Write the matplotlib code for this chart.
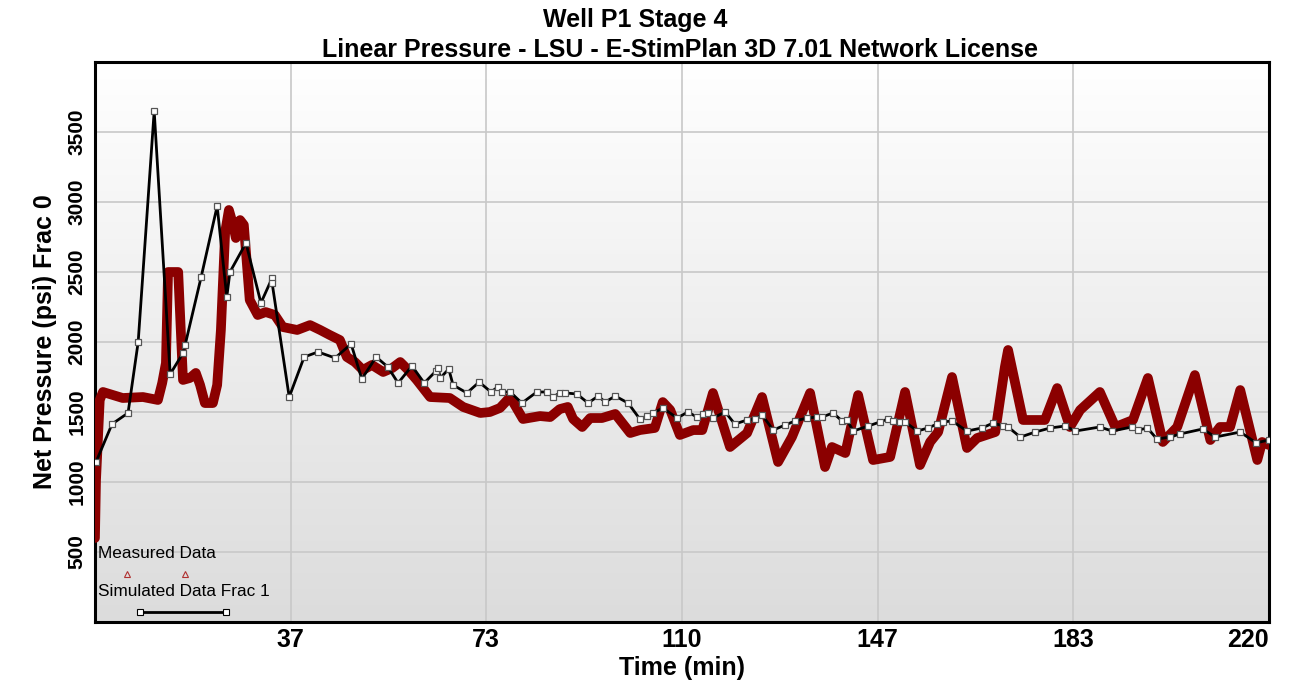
import matplotlib
matplotlib.use("Agg")
import matplotlib.pyplot as plt
import numpy as np

plt.rcParams['font.family'] = ['Liberation Sans', 'DejaVu Sans']

# measured net pressure (time in min, psi)
meas_t = [0.0, 0.2, 0.9, 1.5, 5.2, 9.0, 11.8, 12.6, 13.3, 13.7, 15.6, 16.5, 17.8, 18.9,
          19.7, 20.6, 22.1, 22.9, 23.6, 24.4, 25.1, 25.9, 26.4, 27.2, 27.9, 29.0, 30.5,
          32.0, 33.7, 35.2, 37.9, 40.3, 42.2, 44.0, 45.9, 47.2, 48.7, 50.2, 51.9, 54.0,
          55.7, 57.2, 58.7, 60.3, 62.8, 66.5, 69.0, 72.2, 74.0, 75.9, 77.8, 80.2, 83.4,
          85.3, 87.1, 88.6, 89.6, 91.3, 92.8, 95.0, 97.5, 100.3, 102.1, 104.9, 106.4,
          107.8, 109.6, 112.1, 113.8, 115.8, 119.0, 122.2, 125.0, 128.0, 130.6, 134.0,
          136.8, 138.1, 140.6, 143.0, 145.8, 149.0, 151.8, 154.6, 156.5, 158.0, 160.6,
          163.4, 165.3, 168.7, 170.5, 171.1, 173.9, 178.0, 180.3, 182.7, 184.6, 188.3,
          191.2, 194.5, 197.3, 200.1, 202.8, 206.1, 209.0, 210.8, 212.7, 214.6, 217.8,
          218.7, 220.0]
meas_p = [600, 1014, 1586, 1643, 1600, 1607, 1586, 1707, 1850, 2500, 2500, 1729, 1743, 1779,
          1693, 1564, 1564, 1693, 2086, 2786, 2943, 2836, 2743, 2871, 2836, 2300, 2193,
          2214, 2193, 2107, 2086, 2121, 2086, 2050, 2014, 1893, 1857, 1800, 1836, 1786,
          1814, 1857, 1800, 1729, 1607, 1600, 1536, 1493, 1500, 1529, 1607, 1450, 1471,
          1464, 1521, 1536, 1450, 1393, 1457, 1457, 1486, 1350, 1371, 1386, 1571,
          1514, 1336, 1371, 1371, 1636, 1250, 1350, 1607, 1143, 1321, 1636,
          1107, 1250, 1207, 1621, 1157, 1179, 1643, 1121, 1286, 1357, 1750,
          1243, 1314, 1357, 1821, 1943, 1443, 1443, 1671, 1393, 1514, 1643,
          1393, 1443, 1743, 1286, 1393, 1764, 1300, 1393, 1393, 1657, 1157,
          1286, 1264]

# simulated net pressure frac 1
sim_t = [0.2, 3.2, 6.2, 8.1, 11.1, 14.1, 16.5, 16.9, 19.9, 22.9, 24.7, 25.3, 28.3, 31.1,
         33.2, 33.2, 36.4, 39.2, 41.8, 45.0, 48.0, 50.0, 52.7, 54.9, 56.8, 59.4, 61.7,
         63.9, 64.3, 64.7, 66.3, 67.1, 69.7, 72.0, 74.2, 75.5, 76.3, 77.8, 80.0, 82.8,
         84.7, 85.8, 87.1, 88.1, 90.3, 92.4, 94.3, 95.6, 97.5, 99.9, 102.1, 103.4, 104.6,
         106.4, 109.1, 111.1, 112.8, 113.9, 114.9, 115.8, 118.1, 119.9, 122.2, 123.7,
         125.0, 127.1, 129.3, 131.2, 133.4, 135.3, 136.2, 138.3, 140.0, 140.9, 142.1,
         144.9, 147.1, 148.6, 149.6, 150.9, 151.8, 154.1, 156.1, 157.8, 158.9, 160.6,
         163.4, 166.2, 168.3, 170.2, 171.1, 173.4, 176.2, 179.0, 181.8, 183.7, 188.3,
         190.6, 194.3, 195.5, 197.2, 199.0, 201.5, 203.3, 207.6, 209.9, 214.6, 217.6, 219.9]
sim_p = [1143, 1414, 1493, 2000, 3650, 1771, 1921, 1979, 2464, 2971, 2321, 2500, 2707, 2279,
         2457, 2421, 1607, 1893, 1929, 1886, 1986, 1736, 1893, 1821, 1707, 1829, 1707,
         1793, 1814, 1743, 1807, 1693, 1636, 1714, 1643, 1679, 1643, 1643, 1564, 1643,
         1643, 1607, 1636, 1636, 1629, 1564, 1614, 1571, 1614, 1564, 1450, 1471, 1493,
         1529, 1457, 1500, 1464, 1486, 1493, 1457, 1500, 1414, 1443, 1450,
         1479, 1371, 1407, 1436, 1457, 1464, 1464, 1493, 1436, 1443, 1364,
         1400, 1429, 1450, 1436, 1429, 1429, 1364, 1386, 1414, 1429, 1436,
         1364, 1386, 1421, 1400, 1393, 1321, 1357, 1386, 1400, 1364, 1393,
         1364, 1393, 1371, 1386, 1307, 1321, 1343, 1379, 1321, 1357, 1279, 1300]

xticks = [220 * k / 6 for k in range(1, 7)]
xlabels = ['37', '73', '110', '147', '183', '220']
yticks = [500, 1000, 1500, 2000, 2500, 3000, 3500]

fig = plt.figure(figsize=(13.06, 6.83), dpi=100)
ax = fig.add_axes([0.0727, 0.0893, 0.8990, 0.8199])

# gradient background
grad = np.linspace(1, 0, 256).reshape(-1, 1)
ax.imshow(grad, extent=[0, 1, 0, 1], transform=ax.transAxes, aspect='auto',
          cmap=matplotlib.colors.LinearSegmentedColormap.from_list('g', ['#dcdcdc', '#ffffff']),
          zorder=0)

ax.set_xlim(0, 220)
ax.set_ylim(0, 4000)
ax.set_xticks(xticks)
ax.set_xticklabels(xlabels, fontsize=18, fontweight='bold')
ax.get_xticklabels()[-1].set_horizontalalignment('right')
ax.set_yticks(yticks)
ax.set_yticklabels([str(v) for v in yticks], fontsize=15, fontweight='bold',
                   rotation=90, va='center')
ax.tick_params(axis='x', length=0, pad=4)
ax.tick_params(axis='y', length=0, pad=6)
ax.grid(True, color='#c8c8c8', linewidth=1.2, zorder=1)
ax.set_axisbelow(True)
for s in ax.spines.values():
    s.set_linewidth(2.2)
    s.set_color('black')

ax.plot(meas_t, meas_p, color='#8b0000', linewidth=7, solid_joinstyle='round',
        solid_capstyle='round', zorder=3)
ax.plot(sim_t, sim_p, color='black', linewidth=2, marker='s', markersize=4.5,
        markerfacecolor='white', markeredgecolor='#555555', markeredgewidth=0.9, zorder=4)

ax.set_xlabel('Time (min)', fontsize=18, fontweight='bold', labelpad=3)
ax.set_ylabel('Net Pressure (psi) Frac 0', fontsize=18, fontweight='bold', labelpad=8)

fig.text(0.486, 0.970, 'Well P1 Stage 4', ha='center', va='center',
         fontsize=18, fontweight='bold')
fig.text(0.521, 0.927, 'Linear Pressure - LSU - E-StimPlan 3D 7.01 Network License',
         ha='center', va='center', fontsize=18, fontweight='bold')

# legend drawn inside the plot area
ax.text(0.003, 0.123, 'Measured Data', transform=ax.transAxes, fontsize=12.4, va='center')
ax.plot([0.027, 0.077], [0.086, 0.086], transform=ax.transAxes, linestyle='none',
        marker='^', markersize=4, markerfacecolor='none', markeredgecolor='#b03030',
        markeredgewidth=0.8, clip_on=False)
ax.text(0.003, 0.054, 'Simulated Data Frac 1', transform=ax.transAxes, fontsize=12.4,
        va='center')
ax.plot([0.038, 0.112], [0.018, 0.018], transform=ax.transAxes, color='black',
        linewidth=2, marker='s', markersize=4, markevery=[0, 1],
        markerfacecolor='white', markeredgecolor='black', markeredgewidth=0.8)

fig.savefig('out.png', dpi=100)
